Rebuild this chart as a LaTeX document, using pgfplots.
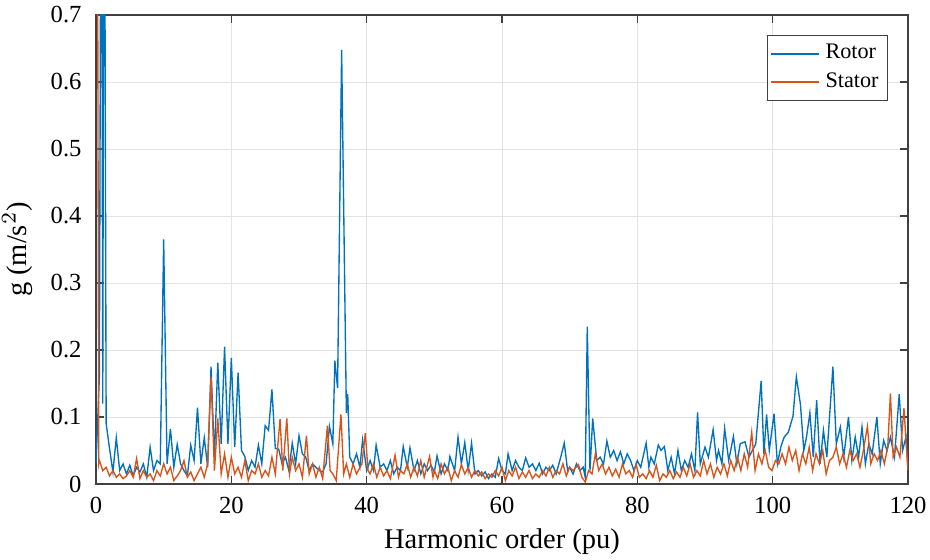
\documentclass[border=0pt]{standalone}
\usepackage{fontspec}
\setmainfont{Liberation Serif}
\usepackage{pgfplots}
\pgfplotsset{compat=1.18}
\definecolor{mblue}{RGB}{0,114,189}
\definecolor{morange}{RGB}{217,83,25}
\begin{document}
\begin{tikzpicture}
\useasboundingbox (-32pt,-25.33pt) rectangle (278pt,161.33pt);
\begin{axis}[
  at={(0pt,0pt)}, anchor=south west,
  scale only axis,
  width=270.67pt, height=156.33pt,
  xmin=0, xmax=120, ymin=0, ymax=0.7,
  xtick={0,20,...,120},
  ytick={0,0.1,...,0.7},
  yticklabels={0,0.1,0.2,0.3,0.4,0.5,0.6,0.7},
  /pgf/number format/assume math mode=true,
  tick label style={font=\fontsize{8.2}{9}\selectfont},
  label style={font=\fontsize{9.5}{11}\selectfont},
  xlabel={Harmonic order (pu)},
  ylabel={g (m/s$^2$)},
  grid=major,
  major grid style={gray!22, line width=0.3pt},
  axis line style={black!75, line width=0.4pt},
  tick style={black!75, line width=0.4pt},
  tick align=inside,
  major tick length=2.6pt,
  xticklabel style={yshift=-1pt},
  yticklabel style={xshift=-1.3pt},
  xlabel style={yshift=2pt},
  ylabel style={yshift=-1pt},
  legend style={at={(1,1)}, anchor=north east, xshift=-6.67pt, yshift=-6.67pt,
    font=\fontsize{7.4}{8.5}\selectfont, draw=black!75, line width=0.3pt,
    inner sep=1pt, row sep=-1pt},
  legend cell align=left,
  legend image code/.code={\draw[#1, line width=0.4pt] (0pt,0pt) -- (16pt,0pt);},
]
\addplot[mblue, line width=0.45pt] coordinates {
(0,0.03) (0.5,0.16) (0.8,1.2) (1.0,0.12) (1.2,1.2) (1.5,0.09) (2.0,0.053) (2.5,0.018)
(3.0,0.069) (3.5,0.02) (4.0,0.03) (4.5,0.015) (5.0,0.028) (5.5,0.012) (6.0,0.025) (6.5,0.018)
(7.0,0.03) (7.5,0.01) (8.0,0.055) (8.5,0.02) (9.0,0.035) (9.5,0.03) (10.0,0.365) (10.5,0.03)
(11.0,0.082) (11.5,0.025) (12.0,0.059) (12.5,0.03) (13.0,0.02) (13.5,0.012) (14.0,0.058) (14.5,0.035)
(15.0,0.114) (15.5,0.03) (16.0,0.069) (16.5,0.025) (17.0,0.175) (17.5,0.04) (18.0,0.181) (18.5,0.06)
(19.0,0.205) (19.5,0.06) (20.0,0.188) (20.5,0.055) (21.0,0.166) (21.5,0.05) (22.0,0.041) (22.5,0.02)
(23.0,0.035) (23.5,0.025) (24.0,0.058) (24.5,0.03) (25.0,0.087) (25.5,0.08) (26.0,0.141) (26.5,0.053)
(27.0,0.052) (27.5,0.03) (28.0,0.04) (28.5,0.02) (29.0,0.061) (29.5,0.03) (30.0,0.072) (30.5,0.045)
(31.0,0.04) (31.5,0.02) (32.0,0.03) (32.5,0.025) (33.0,0.02) (33.5,0.018) (34.0,0.03) (34.5,0.086)
(35.0,0.06) (35.3,0.184) (35.7,0.143) (36.3,0.648) (37.0,0.106) (37.2,0.134) (37.5,0.04) (38.0,0.03)
(38.5,0.045) (39.0,0.025) (39.4,0.066) (40.0,0.02) (40.5,0.035) (41.0,0.02) (41.4,0.058) (42.0,0.025)
(42.5,0.03) (43.0,0.02) (43.5,0.035) (44.0,0.015) (44.5,0.025) (45.0,0.02) (45.4,0.056) (46.0,0.025)
(46.4,0.054) (47.0,0.02) (47.5,0.035) (48.0,0.015) (48.5,0.03) (49.0,0.02) (49.5,0.028) (50.0,0.018)
(50.4,0.042) (51.0,0.015) (51.5,0.03) (52.0,0.02) (52.3,0.041) (53.0,0.02) (53.5,0.070) (54.0,0.03)
(54.5,0.062) (55.0,0.02) (55.5,0.061) (56.0,0.015) (56.5,0.02) (57.0,0.012) (57.5,0.018) (58.0,0.008)
(58.5,0.015) (59.0,0.01) (59.5,0.038) (60.0,0.02) (60.5,0.015) (60.9,0.045) (61.5,0.02) (62.0,0.035)
(62.5,0.025) (63.0,0.02) (63.5,0.039) (64.0,0.025) (64.5,0.03) (65.0,0.02) (65.5,0.031) (66.0,0.015)
(66.5,0.025) (67.0,0.02) (67.5,0.028) (68.0,0.015) (68.6,0.037) (69.2,0.061) (69.7,0.02) (70.0,0.025)
(70.5,0.015) (71.0,0.03) (71.5,0.02) (72.0,0.025) (72.3,0.01) (72.6,0.235) (73.0,0.02) (73.4,0.098)
(74.0,0.035) (74.5,0.04) (75.0,0.03) (75.5,0.064) (76.0,0.04) (76.5,0.05) (77.0,0.035) (77.5,0.048)
(78.0,0.03) (78.5,0.045) (79.0,0.035) (79.5,0.02) (80.0,0.035) (80.5,0.025) (81.3,0.061) (81.7,0.025)
(82.0,0.04) (82.5,0.03) (83.1,0.058) (83.5,0.05) (84.0,0.056) (84.5,0.02) (85.0,0.04) (85.5,0.015)
(86.0,0.05) (86.5,0.02) (87.0,0.035) (87.5,0.025) (88.0,0.045) (88.5,0.02) (88.9,0.107) (89.3,0.03)
(90.0,0.055) (90.5,0.04) (91.2,0.081) (91.7,0.035) (92.0,0.05) (92.5,0.03) (92.9,0.083) (93.5,0.035)
(94.2,0.071) (94.7,0.03) (95.2,0.06) (95.9,0.063) (96.5,0.04) (97.0,0.05) (97.5,0.06) (98.3,0.154)
(98.7,0.045) (99.1,0.104) (99.5,0.05) (100.2,0.105) (100.7,0.03) (101.2,0.055) (101.7,0.07) (102.3,0.077)
(103.0,0.101) (103.5,0.16) (104.1,0.119) (104.6,0.05) (105.0,0.07) (105.5,0.106) (106.0,0.04) (106.5,0.125)
(107.0,0.03) (107.5,0.08) (108.0,0.04) (108.9,0.175) (109.4,0.06) (110.0,0.085) (110.5,0.04) (111.2,0.10)
(111.7,0.035) (112.2,0.07) (112.7,0.04) (113.2,0.085) (113.7,0.03) (114.2,0.06) (114.7,0.045) (115.4,0.10)
(115.9,0.03) (116.4,0.065) (116.9,0.05) (117.4,0.07) (118.0,0.04) (118.7,0.134) (119.2,0.05) (119.7,0.07)
(120.0,0.02)
};
\addlegendentry{Rotor}
\addplot[morange, line width=0.45pt] coordinates {
(0,1.0) (0.2,1.0) (0.4,0.03) (0.5,0.035) (1.0,0.02) (1.5,0.025) (2.0,0.012) (2.5,0.02)
(3.0,0.01) (3.5,0.015) (4.0,0.008) (4.5,0.012) (5.0,0.02) (5.5,0.01) (6.0,0.038) (6.5,0.008)
(7.0,0.02) (7.5,0.01) (8.0,0.015) (8.5,0.005) (9.0,0.02) (9.5,0.012) (10.0,0.03) (10.5,0.015)
(11.0,0.025) (11.5,0.005) (12.0,0.012) (12.5,0.02) (13.0,0.035) (13.5,0.01) (14.0,0.018) (14.5,0.005)
(15.0,0.015) (15.5,0.025) (16.0,0.01) (16.5,0.03) (17.0,0.16) (17.5,0.02) (18.0,0.098) (18.5,0.015)
(19.0,0.045) (19.5,0.01) (20.0,0.04) (20.5,0.015) (21.0,0.025) (21.5,0.01) (22.0,0.035) (22.5,0.005)
(23.0,0.02) (23.5,0.015) (24.0,0.03) (24.5,0.01) (25.0,0.02) (25.5,0.012) (26.0,0.04) (26.5,0.015)
(27.2,0.097) (27.6,0.02) (28.2,0.098) (28.6,0.015) (29.0,0.04) (29.5,0.02) (30.0,0.03) (30.5,0.01)
(31.1,0.072) (31.5,0.015) (32.0,0.03) (32.5,0.01) (33.0,0.025) (33.5,0.008) (34.2,0.087) (34.6,0.02)
(35.0,0.015) (35.5,0.005) (36.2,0.104) (36.6,0.015) (37.0,0.03) (37.5,0.01) (38.0,0.03) (38.5,0.015)
(39.3,0.03) (39.8,0.076) (40.2,0.02) (40.5,0.015) (41.0,0.03) (41.5,0.01) (42.0,0.025) (42.5,0.012)
(43.0,0.02) (43.5,0.008) (44.2,0.043) (44.7,0.01) (45.0,0.02) (45.5,0.015) (46.0,0.03) (46.5,0.01)
(47.0,0.025) (47.5,0.012) (48.0,0.035) (48.5,0.01) (49.3,0.041) (49.8,0.01) (50.0,0.02) (50.5,0.008)
(51.0,0.03) (51.5,0.015) (52.0,0.025) (52.5,0.005) (53.0,0.02) (53.5,0.01) (54.0,0.029) (54.5,0.015)
(55.0,0.025) (55.5,0.01) (56.0,0.02) (56.5,0.012) (57.0,0.018) (57.5,0.008) (58.0,0.015) (58.5,0.01)
(59.0,0.02) (59.5,0.012) (60.0,0.025) (60.5,0.005) (61.0,0.02) (61.5,0.012) (62.0,0.025) (62.5,0.008)
(63.0,0.018) (63.5,0.01) (64.0,0.02) (64.5,0.008) (65.0,0.015) (65.5,0.01) (66.0,0.02) (66.5,0.012)
(67.0,0.025) (67.5,0.01) (68.0,0.02) (68.5,0.015) (69.0,0.03) (69.5,0.012) (70.0,0.025) (70.5,0.02)
(71.3,0.029) (71.8,0.01) (72.3,0.003) (72.8,0.02) (73.3,0.015) (73.8,0.045) (74.3,0.02) (74.8,0.03)
(75.3,0.015) (75.8,0.025) (76.3,0.012) (76.8,0.022) (77.3,0.01) (77.8,0.03) (78.3,0.015) (78.8,0.02)
(79.3,0.01) (79.8,0.03) (80.3,0.01) (80.8,0.015) (81.3,0.008) (81.8,0.02) (82.3,0.01) (82.8,0.028)
(83.3,0.005) (83.8,0.015) (84.3,0.01) (84.8,0.02) (85.3,0.008) (85.8,0.018) (86.3,0.01) (86.8,0.025)
(87.3,0.012) (87.8,0.03) (88.3,0.01) (88.8,0.02) (89.3,0.012) (89.8,0.035) (90.3,0.015) (90.8,0.03)
(91.3,0.01) (91.8,0.025) (92.3,0.015) (92.8,0.03) (93.3,0.012) (93.8,0.035) (94.3,0.02) (94.8,0.04)
(95.3,0.02) (95.8,0.045) (96.3,0.025) (96.9,0.077) (97.4,0.02) (97.9,0.045) (98.4,0.03) (98.9,0.05)
(99.4,0.025) (99.9,0.02) (100.4,0.035) (100.9,0.03) (101.4,0.045) (101.9,0.03) (102.4,0.055) (102.9,0.035)
(103.4,0.05) (103.9,0.02) (104.4,0.045) (104.9,0.03) (105.4,0.055) (105.9,0.02) (106.4,0.045) (106.9,0.03)
(107.4,0.05) (107.9,0.015) (108.4,0.035) (108.9,0.04) (109.4,0.055) (109.9,0.03) (110.4,0.045) (110.9,0.025)
(111.4,0.05) (111.9,0.035) (112.4,0.045) (112.9,0.025) (113.4,0.05) (114.0,0.086) (114.5,0.03) (115.0,0.045)
(115.5,0.035) (116.0,0.05) (116.5,0.03) (117.0,0.055) (117.4,0.135) (117.8,0.04) (118.3,0.055) (118.8,0.04)
(119.4,0.113) (119.8,0.05) (120.0,0.02)
};
\addlegendentry{Stator}
\end{axis}
\end{tikzpicture}
\end{document}
